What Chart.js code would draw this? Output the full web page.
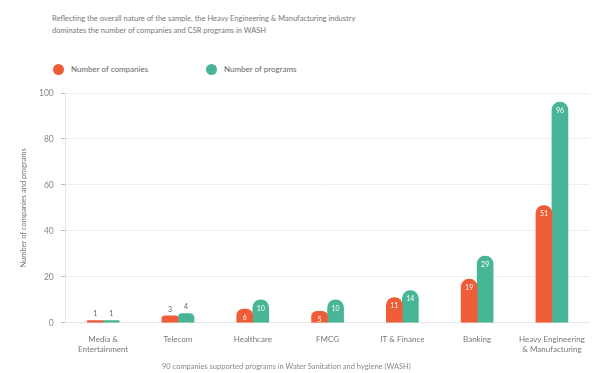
<!DOCTYPE html>
<html>
<head>
<meta charset="utf-8">
<script src="https://cdn.jsdelivr.net/npm/chart.js@4"></script>
<style>
  html, body { margin: 0; padding: 0; background: #fff; font-family: Lato, "Open Sans", sans-serif; }
  #wrap { position: relative; width: 597px; height: 373px; overflow: hidden; }
  #title { position: absolute; left: 52px; top: 13px; font-size: 7.5px; line-height: 12px; color: #777; width: 480px; }
  .legend { position: absolute; top: 64px; font-size: 8px; color: #666; }
  .legend span.dot { display: inline-block; width: 11px; height: 11px; border-radius: 50%; vertical-align: middle; margin-right: 7px; }
  #caption { position: absolute; left: 162px; top: 362px; font-size: 7.5px; color: #888; white-space: nowrap; }
  #c { position: absolute; left: 0; top: 0; }
</style>
</head>
<body>
<div id="wrap">
  <div id="title">Reflecting the overall nature of the sample, the Heavy Engineering &amp; Manufacturing industry<br>dominates the number of companies and CSR programs in WASH</div>
  <div class="legend" style="left:53px"><span class="dot" style="background:#EE5D37"></span>Number of companies</div>
  <div class="legend" style="left:206px"><span class="dot" style="background:#48B696"></span>Number of programs</div>
  <canvas id="c" width="597" height="373"></canvas>
  <div id="caption">90 companies supported programs in Water Sanitation and hygiene (WASH)</div>
</div>
<script>
// Chart data
const industries = [["Media &", "Entertainment"], "Telecom", "Healthcare", "FMCG", "IT & Finance", "Banking", ["Heavy Engineering", "& Manufacturing"]];
const companies = [1, 3, 6, 5, 11, 19, 51];
const programs = [1, 4, 10, 10, 14, 29, 96];

const orange = "#EE5D37";
const green = "#48B696";

// value labels: white inside the bar top, grey above very small bars
const barLabels = {
    id: "barLabels",
    afterDatasetsDraw(chart) {
        const ctx = chart.ctx;
        ctx.save();
        ctx.font = "7px Lato";
        ctx.textAlign = "center";
        chart.data.datasets.forEach((ds, i) => {
            chart.getDatasetMeta(i).data.forEach((bar, j) => {
                const v = ds.data[j];
                if (v < 5) {
                    ctx.fillStyle = "#666";
                    ctx.textBaseline = "bottom";
                    ctx.fillText(v, bar.x, bar.y - 3);
                } else {
                    ctx.fillStyle = "#fff";
                    ctx.textBaseline = "top";
                    ctx.fillText(v, bar.x, bar.y + 5);
                }
            });
        });
        ctx.restore();
    }
};

new Chart(document.getElementById("c"), {
    type: "bar",
    data: {
        labels: industries,
        datasets: [
            { label: "Number of companies", data: companies, backgroundColor: orange, borderRadius: { topLeft: 8, topRight: 8 }, borderSkipped: "bottom", minBarLength: 2 },
            { label: "Number of programs", data: programs, backgroundColor: green, borderRadius: { topLeft: 8, topRight: 8 }, borderSkipped: "bottom", minBarLength: 2 }
        ]
    },
    options: {
        responsive: false,
        animation: false,
        barThickness: 16,
        categoryPercentage: 0.54,
        layout: { padding: { top: 93, left: 15, right: 2, bottom: 7 } },
        plugins: { legend: { display: false }, tooltip: { enabled: false } },
        scales: {
            x: {
                grid: { display: false, drawTicks: false },
                border: { color: "#e6e6e6" },
                ticks: { color: "#777", font: { family: "Lato", size: 8 }, padding: 12, maxRotation: 0, autoSkip: false }
            },
            y: {
                min: 0, max: 100,
                ticks: { stepSize: 20, color: "#888", font: { family: "Lato", size: 8.5 }, padding: 7 },
                grid: { color: "#efefef", tickLength: 5, tickColor: "#bbb" },
                border: { color: "#e6e6e6" },
                title: { display: true, text: "Number of companies and programs", color: "#777", font: { family: "Lato", size: 7.5 } }
            }
        }
    },
    plugins: [barLabels]
});
</script>
</body>
</html>
